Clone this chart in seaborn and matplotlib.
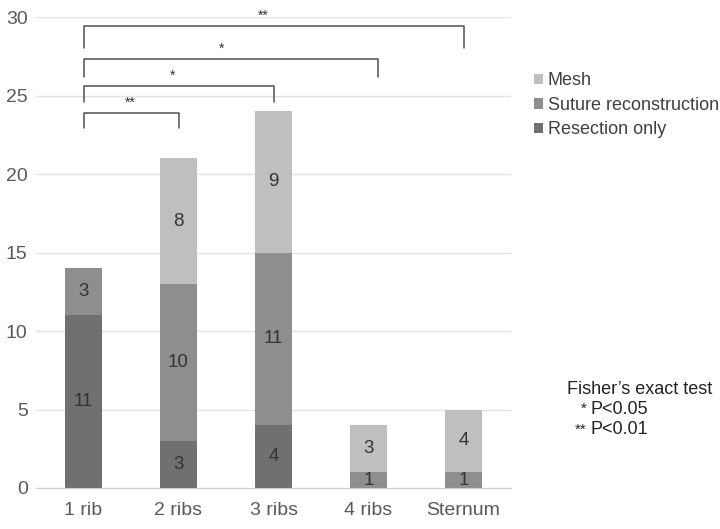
import seaborn as sns
import pandas as pd
import matplotlib.pyplot as plt

# Data
categories = ['1 rib', '2 ribs', '3 ribs', '4 ribs', 'Sternum']
resection = [11, 3, 4, 0, 0]
suture = [3, 10, 11, 1, 1]
mesh = [0, 8, 9, 3, 4]

# Significance brackets: (left pos, right pos, leg bottom, top, star x, label)
brackets = [
    (0, 1.0, 22.9, 23.9, 0.49, '**'),
    (0, 2.0, 24.6, 25.6, 0.94, '*'),
    (0, 3.1, 26.2, 27.3, 1.45, '*'),
    (0, 4.0, 28.0, 29.4, 1.89, '**'),
]

colors = {'Resection only': '#707070', 'Suture reconstruction': '#8e8e8e', 'Mesh': '#bfbfbf'}
text_col = '#404040'

sns.set_style('white')
plt.rcParams['font.family'] = ['Liberation Sans', 'DejaVu Sans']

df = pd.DataFrame({'cat': categories, 'Resection only': resection,
                   'Suture reconstruction': suture, 'Mesh': mesh})

fig = plt.figure(figsize=(7.2, 5.29), dpi=100)
ax = fig.add_axes([36 / 720, 1 - 488 / 529, 475 / 720, 471 / 529])

bottom = [0] * len(categories)
for series in ['Resection only', 'Suture reconstruction', 'Mesh']:
    sns.barplot(data=df, x='cat', y=series, bottom=bottom, color=colors[series],
                width=0.39, ax=ax, label=series, saturation=1, linewidth=0)
    for i, v in enumerate(df[series]):
        if v > 0:
            ax.text(i, bottom[i] + v / 2, str(v), ha='center', va='center',
                    fontsize=13.5, color='#333333')
    bottom = [b + v for b, v in zip(bottom, df[series])]

ax.set_xlim(-0.5, 4.5)
ax.set_ylim(0, 30)
ax.set_yticks(range(0, 31, 5))
ax.yaxis.grid(True, color='#e3e3e3', linewidth=1)
ax.set_axisbelow(True)
for s in ['left', 'right', 'top']:
    ax.spines[s].set_visible(False)
ax.spines['bottom'].set_color('#d0d0d0')
ax.tick_params(axis='both', length=0, labelsize=14, colors='#595959')
ax.tick_params(axis='x', pad=10)
ax.tick_params(axis='y', pad=6)
ax.set_xlabel('')
ax.set_ylabel('')

# brackets with stars
for x0, x1, yb, yt, sx, lab in brackets:
    ax.plot([x0, x0, x1, x1], [yb, yt, yt, yb], color='#505050', lw=1.1,
            clip_on=False)
    ax.text(sx, yt + 0.2, lab, ha='center', va='bottom', fontsize=10,
            color='#333333')

# legend, reversed order
handles, labels = ax.get_legend_handles_labels()
if ax.get_legend():
    ax.get_legend().remove()
fig.legend(handles[::-1], labels[::-1], loc='upper left',
           bbox_to_anchor=(518 / 720, 1 - 56 / 529), frameon=False,
           fontsize=13, handlelength=0.5, handleheight=0.5,
           handletextpad=0.25, labelspacing=0.42, labelcolor=text_col)

# Fisher's exact test note
fig.text(567 / 720, 1 - 389 / 529, 'Fisher\u2019s exact test', fontsize=13,
         color='#222222', va='center', ha='left')
fig.text(587 / 720, 1 - 409 / 529, '*', fontsize=11, color='#222222',
         va='center', ha='right')
fig.text(590 / 720, 1 - 409 / 529, 'P<0.05', fontsize=13, color='#222222',
         va='center', ha='left')
fig.text(587 / 720, 1 - 430 / 529, '**', fontsize=11, color='#222222',
         va='center', ha='right')
fig.text(590 / 720, 1 - 430 / 529, 'P<0.01', fontsize=13, color='#222222',
         va='center', ha='left')

plt.savefig('out.png', dpi=100)
